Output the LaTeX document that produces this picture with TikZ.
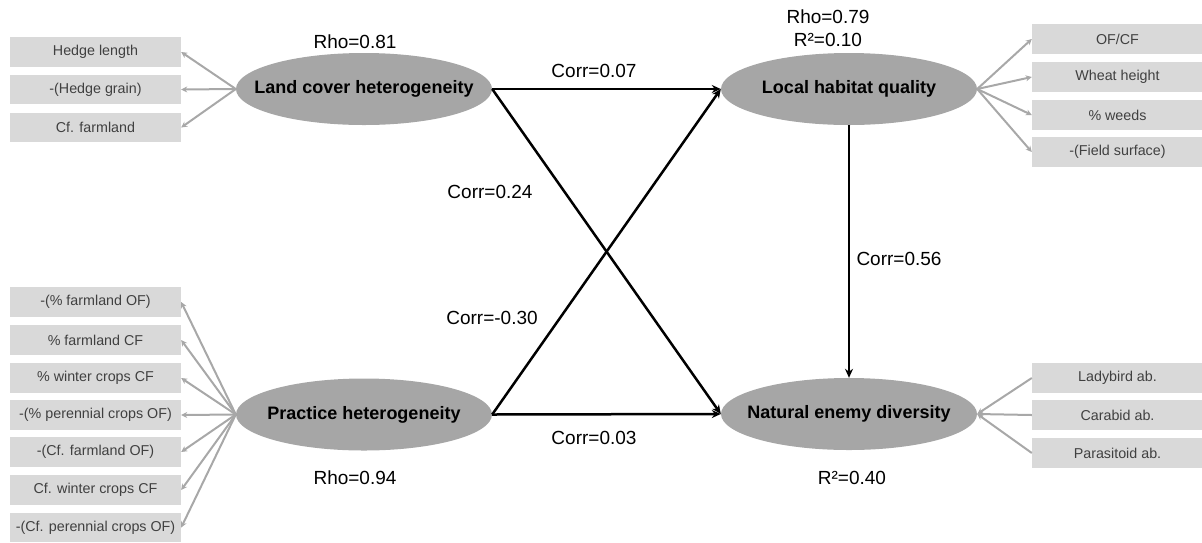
\documentclass[tikz,border=0pt]{standalone}
\usepackage{fontspec}
\setmainfont{Liberation Sans}
\usetikzlibrary{shapes.geometric,arrows.meta}
\definecolor{ellfill}{HTML}{A6A6A6}
\definecolor{boxfill}{HTML}{D9D9D9}
\definecolor{boxtext}{HTML}{404040}
\definecolor{loadline}{HTML}{A8A8A8}
\newcommand{\zw}[1]{\makebox[0pt]{#1}}
\tikzset{
  latent/.style={ellipse, fill=ellfill, minimum width=256pt, minimum height=72pt, inner sep=0pt,
    font=\fontsize{18}{20}\selectfont\bfseries, text=black},
  indic/.style={rectangle, fill=boxfill, minimum width=171pt, minimum height=29.5pt, inner sep=0pt,
    font=\fontsize{14.3}{16}\selectfont, text=boxtext},
  lbl/.style={font=\fontsize{19}{22}\selectfont, text=black, inner sep=0pt},
  load/.style={draw=loadline, line width=2pt, -{Stealth[length=6pt,width=6pt]}},
  path/.style={draw=black, line width=2.5pt, -{Stealth[length=9pt,width=8pt]}}
}
\begin{document}
\begin{tikzpicture}[x=1pt,y=-1pt]
\useasboundingbox (0,0) rectangle (1202,542);
% latent variables
\node[latent] (LC) at (364,89) {\zw{Land cover heterogeneity}};
\node[latent] (PH) at (364,414.5) {\zw{Practice heterogeneity}};
\node[latent] (LH) at (849,89) {\zw{Local habitat quality}};
\node[latent] (NE) at (849,414) {\zw{Natural enemy diversity}};
% indicators left top
\node[indic] (a1) at (95.5,52) {Hedge length};
\node[indic] (a2) at (95.5,89.5) {-(Hedge grain)};
\node[indic] (a3) at (95.5,127.5) {Cf. farmland};
% indicators left bottom
\node[indic] (b1) at (95.5,302) {-(\% farmland OF)};
\node[indic] (b2) at (95.5,340) {\% farmland CF};
\node[indic] (b3) at (95.5,378) {\% winter crops CF};
\node[indic] (b4) at (95.5,415) {-(\% perennial crops OF)};
\node[indic] (b5) at (95.5,452) {-(Cf. farmland OF)};
\node[indic] (b6) at (95.5,490) {Cf. winter crops CF};
\node[indic] (b7) at (95.5,527.5) {-(Cf. perennial crops OF)};
% indicators right top
\node[indic] (c1) at (1117.5,39) {OF/CF};
\node[indic] (c2) at (1117.5,77) {Wheat height};
\node[indic] (c3) at (1117.5,115) {\% weeds};
\node[indic] (c4) at (1117.5,152) {-(Field surface)};
% indicators right bottom
\node[indic] (d1) at (1117.5,378) {Ladybird ab.};
\node[indic] (d2) at (1117.5,415) {Carabid ab.};
\node[indic] (d3) at (1117.5,453) {Parasitoid ab.};
% loadings
\foreach \n in {a1,a2,a3} \draw[load] (LC.west) -- (\n.east);
\foreach \n in {b1,b2,b3,b4,b5,b6,b7} \draw[load] (PH.west) -- (\n.east);
\foreach \n in {c1,c2,c3,c4} \draw[load] (LH.east) -- (\n.west);
\foreach \n in {d1,d2,d3} \draw[load] (\n.west) -- (NE.east);
% structural paths
\draw[path] (LC.east) -- (LH.west);
\draw[path] (LC.east) -- (NE.west);
\draw[path] (PH.east) -- (LH.west);
\draw[path] (PH.east) -- (NE.west);
\draw[path] (LH.south) -- (NE.north);
% labels
\node[lbl] (l1) at (594,71) {Corr=0.07};
\node[lbl] (l2) at (490,192) {Corr=0.24};
\node[lbl] (l3) at (492,318) {Corr=-0.30};
\node[lbl] (l4) at (594,438) {Corr=0.03};
\node[lbl] (l5) at (899,259) {Corr=0.56};
\node[lbl] (r1) at (355,42) {Rho=0.81};
\node[lbl] (r2) at (355,478) {Rho=0.94};
\node[lbl] (r3) at (828,17) {Rho=0.79};
\node[lbl] (r4) at (828,40) {R²=0.10};
\node[lbl] (r5) at (852,478) {R²=0.40};
\end{tikzpicture}
\end{document}
